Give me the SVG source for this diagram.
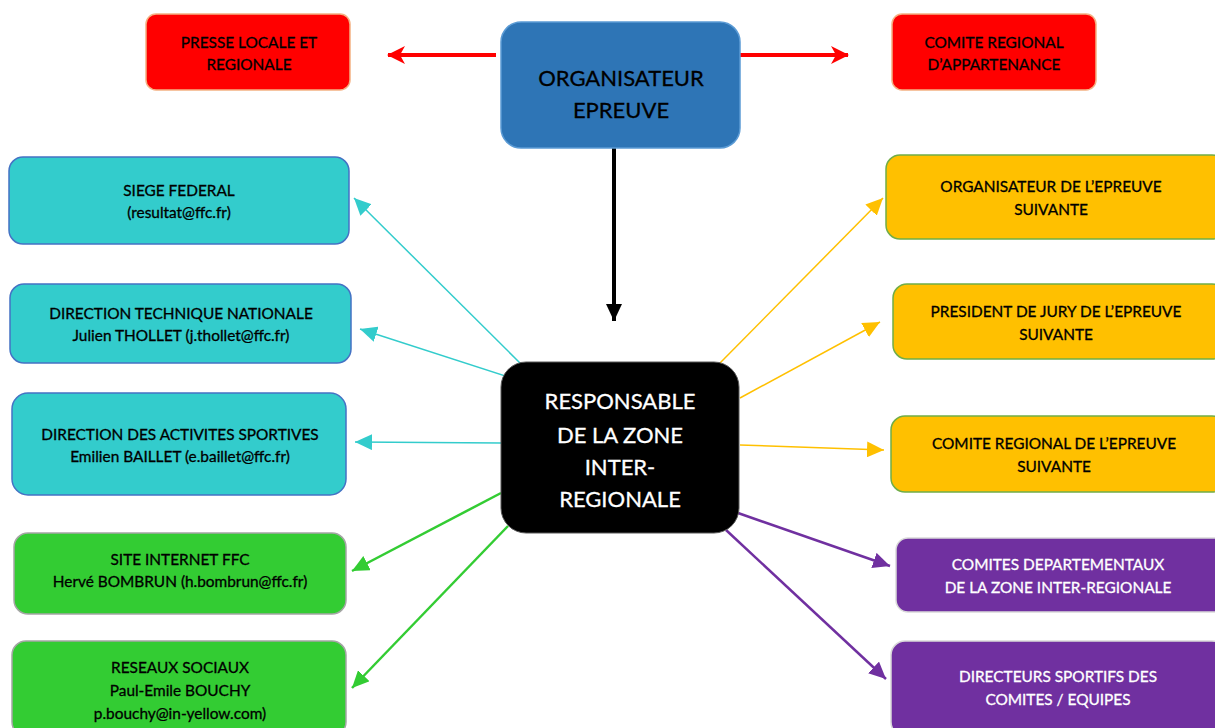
<svg xmlns="http://www.w3.org/2000/svg" width="1215" height="728" viewBox="0 0 1215 728">
<defs>
<style>
text{font-family:Lato,"Open Sans","Liberation Sans",sans-serif;text-anchor:middle;fill:#000;stroke:#000;stroke-width:0.3}
.s{font-size:15.4px}
.b{font-size:22px}
.w{fill:#fff;stroke:#fff}
.red{fill:#FF0000;stroke:#F4B183;stroke-width:1.5}
.blue{fill:#2E75B6;stroke:#5B9BD5;stroke-width:1.5}
.cyan{fill:#33CCCC;stroke:#4472C4;stroke-width:1.5}
.green{fill:#33CC33;stroke:#A5A5A5;stroke-width:1.5}
.yel{fill:#FFC000;stroke:#70AD47;stroke-width:1.5}
.pur{fill:#7030A0;stroke:#D9D9D9;stroke-width:1.5}
.blk{fill:#000;stroke:#595959;stroke-width:1}
</style>
<marker id="mr" markerUnits="userSpaceOnUse" markerWidth="18" markerHeight="18" refX="17" refY="9" orient="auto"><path d="M0,0 L18,9 L0,18 L5,9 z" fill="#FF0000"/></marker>
<marker id="mk" markerUnits="userSpaceOnUse" markerWidth="18" markerHeight="18" refX="17" refY="9" orient="auto"><path d="M0,1 L17,9 L0,17 z" fill="#000"/></marker>
<marker id="mc" markerUnits="userSpaceOnUse" markerWidth="18" markerHeight="16" refX="17" refY="8" orient="auto"><path d="M0,0 L17,8 L0,16 z" fill="#33CCCC"/></marker>
<marker id="mg" markerUnits="userSpaceOnUse" markerWidth="18" markerHeight="16" refX="17" refY="8" orient="auto"><path d="M0,0 L17,8 L0,16 z" fill="#33CC33"/></marker>
<marker id="my" markerUnits="userSpaceOnUse" markerWidth="18" markerHeight="16" refX="17" refY="8" orient="auto"><path d="M0,0 L17,8 L0,16 z" fill="#FFC000"/></marker>
<marker id="mp" markerUnits="userSpaceOnUse" markerWidth="18" markerHeight="16" refX="17" refY="8" orient="auto"><path d="M0,0 L17,8 L0,16 z" fill="#7030A0"/></marker>
</defs>
<rect width="1215" height="728" fill="#fff"/>
<g id="connectors" fill="none">
<line x1="496" y1="55" x2="388" y2="55" stroke="#FF0000" stroke-width="4" marker-end="url(#mr)"/>
<line x1="740" y1="55" x2="848" y2="55" stroke="#FF0000" stroke-width="4" marker-end="url(#mr)"/>
<line x1="614" y1="148" x2="614" y2="321" stroke="#000" stroke-width="4" marker-end="url(#mk)"/>
<line x1="521" y1="364" x2="354" y2="198" stroke="#33CCCC" stroke-width="1.5" marker-end="url(#mc)"/>
<line x1="518" y1="380" x2="360" y2="329" stroke="#33CCCC" stroke-width="1.5" marker-end="url(#mc)"/>
<line x1="501" y1="443" x2="355" y2="442" stroke="#33CCCC" stroke-width="1.5" marker-end="url(#mc)"/>
<line x1="501" y1="493" x2="352" y2="571" stroke="#33CC33" stroke-width="2.5" marker-end="url(#mg)"/>
<line x1="508" y1="526" x2="352" y2="688" stroke="#33CC33" stroke-width="2.5" marker-end="url(#mg)"/>
<line x1="720" y1="363" x2="883" y2="198" stroke="#FFC000" stroke-width="1.5" marker-end="url(#my)"/>
<line x1="740" y1="398" x2="880" y2="322" stroke="#FFC000" stroke-width="1.5" marker-end="url(#my)"/>
<line x1="740" y1="445" x2="884" y2="450" stroke="#FFC000" stroke-width="1.5" marker-end="url(#my)"/>
<line x1="738" y1="513" x2="890" y2="566" stroke="#7030A0" stroke-width="2.5" marker-end="url(#mp)"/>
<line x1="726" y1="530" x2="886" y2="679" stroke="#7030A0" stroke-width="2.5" marker-end="url(#mp)"/>
</g>
<g id="presse"><rect class="red" x="146" y="14" width="204" height="76" rx="10"/><text class="s" x="249" y="48">PRESSE LOCALE ET</text><text class="s" x="249" y="70">REGIONALE</text></g>
<g id="organisateur"><rect class="blue" x="501" y="22" width="239" height="126" rx="20"/><text class="b" x="621" y="86">ORGANISATEUR</text><text class="b" x="621" y="118">EPREUVE</text></g>
<g id="comite-appartenance"><rect class="red" x="892" y="14" width="204" height="76" rx="10"/><text class="s" x="994" y="48">COMITE REGIONAL</text><text class="s" x="994" y="70">D’APPARTENANCE</text></g>
<g id="responsable"><rect class="blk" x="501" y="362" width="238" height="171" rx="25"/><text class="b w" x="620" y="409">RESPONSABLE</text><text class="b w" x="620" y="443">DE LA ZONE</text><text class="b w" x="620" y="475">INTER-</text><text class="b w" x="620" y="507">REGIONALE</text></g>
<g id="siege"><rect class="cyan" x="9" y="157" width="340" height="87" rx="14"/><text class="s" x="179" y="196">SIEGE FEDERAL</text><text class="s" x="179" y="218">(resultat@ffc.fr)</text></g>
<g id="dtn"><rect class="cyan" x="10" y="284" width="341" height="79" rx="14"/><text class="s" x="181" y="319">DIRECTION TECHNIQUE NATIONALE</text><text class="s" x="181" y="341">Julien THOLLET (j.thollet@ffc.fr)</text></g>
<g id="das"><rect class="cyan" x="12" y="393" width="334" height="102" rx="16"/><text class="s" x="180" y="440">DIRECTION DES ACTIVITES SPORTIVES</text><text class="s" x="180" y="462">Emilien BAILLET (e.baillet@ffc.fr)</text></g>
<g id="site"><rect class="green" x="14" y="533" width="332" height="81" rx="14"/><text class="s" x="180" y="565">SITE INTERNET FFC</text><text class="s" x="180" y="587">Hervé BOMBRUN (h.bombrun@ffc.fr)</text></g>
<g id="reseaux"><rect class="green" x="12" y="641" width="334" height="95" rx="14"/><text class="s" x="180" y="673">RESEAUX SOCIAUX</text><text class="s" x="180" y="696">Paul-Emile BOUCHY</text><text class="s" x="180" y="719">p.bouchy@in-yellow.com)</text></g>
<g id="org-suivante"><rect class="yel" x="886" y="155" width="340" height="84" rx="14"/><text class="s" x="1051" y="192">ORGANISATEUR DE L’EPREUVE</text><text class="s" x="1051" y="215">SUIVANTE</text></g>
<g id="president"><rect class="yel" x="893" y="284" width="333" height="75" rx="14"/><text class="s" x="1056" y="317">PRESIDENT DE JURY DE L’EPREUVE</text><text class="s" x="1056" y="340">SUIVANTE</text></g>
<g id="comite-suivante"><rect class="yel" x="891" y="416" width="335" height="76" rx="14"/><text class="s" x="1054" y="449">COMITE REGIONAL DE L’EPREUVE</text><text class="s" x="1054" y="472">SUIVANTE</text></g>
<g id="comites-dept"><rect class="pur" x="896" y="538" width="330" height="74" rx="12"/><text class="s w" x="1058" y="570">COMITES DEPARTEMENTAUX</text><text class="s w" x="1058" y="593">DE LA ZONE INTER-REGIONALE</text></g>
<g id="directeurs"><rect class="pur" x="891" y="641" width="335" height="95" rx="14"/><text class="s w" x="1058" y="682">DIRECTEURS SPORTIFS DES</text><text class="s w" x="1058" y="705">COMITES / EQUIPES</text></g>
</svg>
